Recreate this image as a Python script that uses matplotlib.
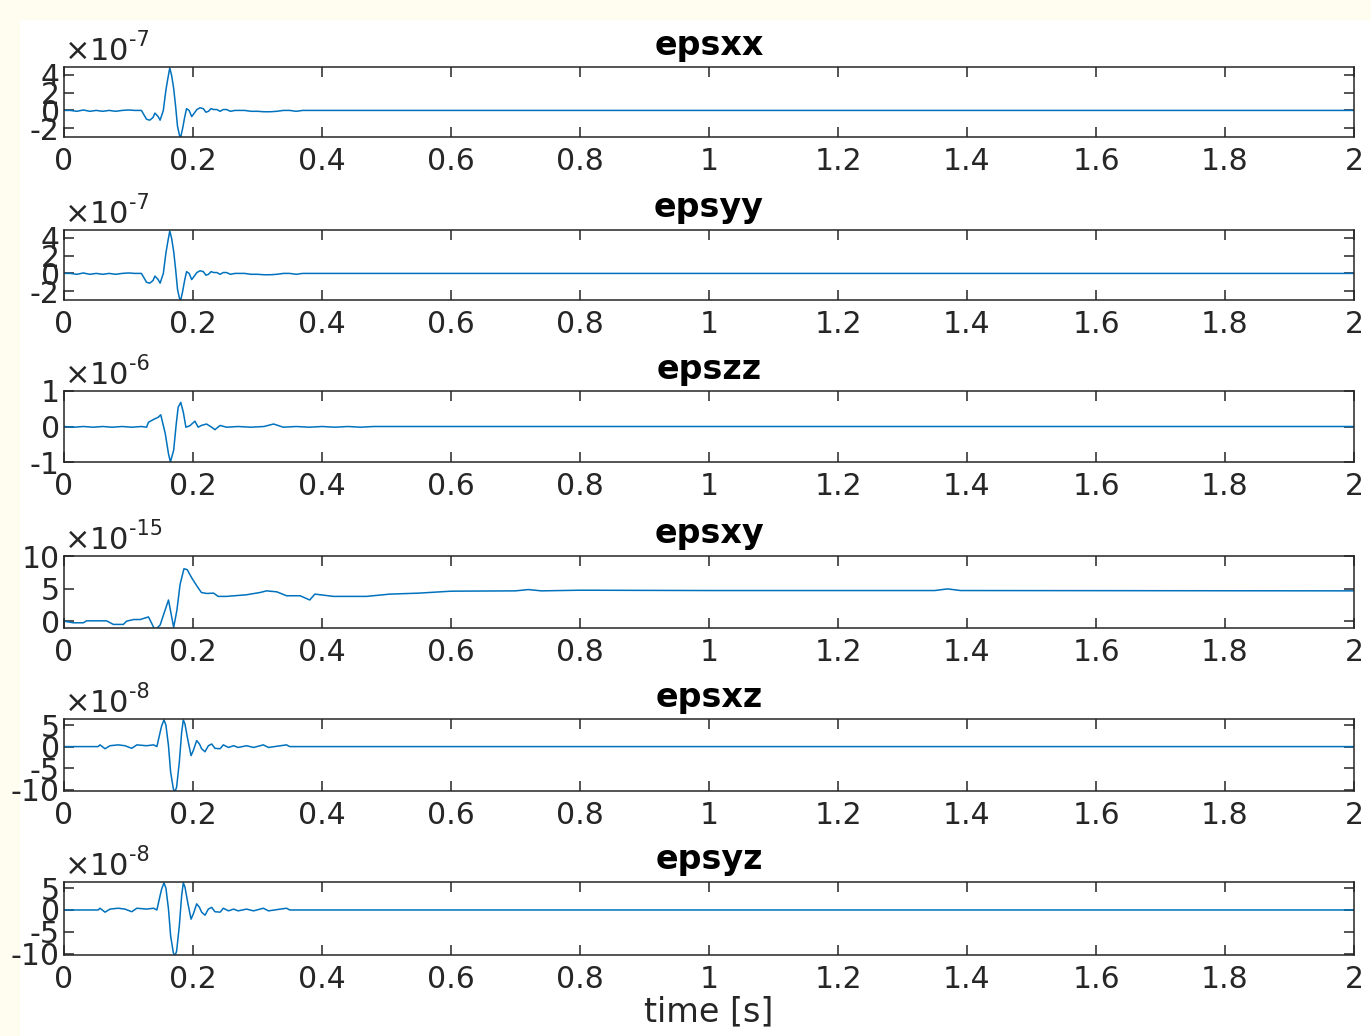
import matplotlib
matplotlib.use('Agg')
import matplotlib.pyplot as plt
from matplotlib.patches import Rectangle

# Strain history, values in units of the per-axis scale
t_xx = [0.0, 0.01, 0.02, 0.03, 0.04, 0.05, 0.06, 0.07, 0.08, 0.09, 0.10, 0.11, 0.12,
        0.128, 0.133, 0.138, 0.141, 0.146, 0.149, 0.154, 0.158, 0.161, 0.164, 0.167,
        0.170, 0.173, 0.176, 0.179, 0.181, 0.184, 0.187, 0.190, 0.194, 0.198, 0.202,
        0.206, 0.211, 0.216, 0.220, 0.224, 0.228, 0.232, 0.237, 0.242, 0.247, 0.252,
        0.258, 0.265, 0.28, 0.29, 0.30, 0.31, 0.32, 0.33, 0.34, 0.35, 0.36, 0.37, 2.0]
epsxx = [0.0, 0.0, -0.1, 0.05, -0.1, 0.0, -0.1, 0.0, -0.1, 0.0, 0.05, 0.0, 0.0,
         -1.0, -1.1, -0.8, -0.3, -0.7, -1.1, 0.0, 2.3, 3.6, 4.8, 3.9,
         2.5, 0.5, -1.8, -2.8, -3.0, -2.0, -0.8, 0.2, 0.0, -0.7, -0.3,
         0.1, 0.3, 0.2, -0.2, -0.1, 0.2, 0.1, 0.1, -0.1, 0.1, 0.1,
         -0.1, 0.0, 0.0, -0.1, -0.1, -0.15, -0.15, -0.1, 0.0, 0.0, -0.1, 0.0, 0.0]
epsyy = [0.0, 0.0, -0.1, 0.05, -0.1, 0.0, -0.1, 0.0, -0.1, 0.0, 0.05, 0.0, 0.0,
         -1.0, -1.1, -0.8, -0.3, -0.7, -1.1, 0.0, 2.3, 3.6, 4.8, 3.9,
         2.5, 0.5, -1.8, -2.8, -3.0, -2.0, -0.8, 0.2, 0.0, -0.7, -0.3,
         0.1, 0.3, 0.2, -0.2, -0.1, 0.2, 0.1, 0.1, -0.1, 0.1, 0.1,
         -0.1, 0.0, 0.0, -0.1, -0.1, -0.15, -0.15, -0.1, 0.0, 0.0, -0.1, 0.0, 0.0]

t_zz = [0.0, 0.015, 0.03, 0.045, 0.06, 0.075, 0.09, 0.105, 0.12, 0.128, 0.131, 0.139,
        0.146, 0.150, 0.157, 0.162, 0.165, 0.170, 0.174, 0.177, 0.181, 0.185, 0.189,
        0.195, 0.203, 0.208, 0.213, 0.221, 0.229, 0.234, 0.242, 0.252, 0.27, 0.29,
        0.31, 0.325, 0.34, 0.36, 0.38, 0.40, 0.42, 0.44, 0.46, 0.48, 2.0]
epszz = [0.0, -0.02, 0.0, -0.02, 0.0, -0.02, 0.0, -0.02, 0.0, -0.02, 0.12, 0.2,
         0.26, 0.33, -0.2, -0.77, -1.0, -0.67, 0.07, 0.54, 0.68, 0.4, -0.02,
         0.02, 0.15, -0.02, 0.03, 0.07, -0.02, -0.09, 0.03, -0.02, 0.0, -0.02,
         0.0, 0.07, -0.02, 0.0, -0.02, 0.0, -0.02, 0.0, -0.02, 0.0, 0.0]

t_xy = [0.0, 0.0145, 0.030, 0.035, 0.066, 0.0765, 0.092, 0.097, 0.108, 0.118, 0.131,
        0.141, 0.149, 0.162, 0.170, 0.175, 0.180, 0.186, 0.191, 0.198, 0.206, 0.213,
        0.221, 0.232, 0.239, 0.252, 0.283, 0.304, 0.314, 0.330, 0.345, 0.366, 0.381,
        0.389, 0.418, 0.469, 0.505, 0.55, 0.60, 0.70, 0.72, 0.74, 0.80, 1.0, 1.35,
        1.37, 1.39, 2.0]
epsxy = [0.0, -0.25, -0.25, 0.05, 0.05, -0.5, -0.5, 0.0, 0.25, 0.25, 0.65,
         -1.35, -0.6, 3.25, -0.95, 1.65, 5.65, 8.05, 7.9, 6.65, 5.4, 4.4,
         4.25, 4.3, 3.8, 3.8, 4.05, 4.4, 4.65, 4.5, 3.9, 3.9, 3.25,
         4.15, 3.8, 3.8, 4.15, 4.3, 4.6, 4.65, 4.85, 4.65, 4.75, 4.7, 4.7,
         4.95, 4.7, 4.65]

t_xz = [0.0, 0.053, 0.0558, 0.0636, 0.0713, 0.084, 0.0946, 0.105, 0.113, 0.128,
        0.139, 0.144, 0.149, 0.1514, 0.155, 0.158, 0.162, 0.1653, 0.1695, 0.172,
        0.1746, 0.1788, 0.1824, 0.185, 0.1876, 0.1917, 0.197, 0.2005, 0.2057, 0.210,
        0.2134, 0.2186, 0.2238, 0.229, 0.234, 0.242, 0.247, 0.255, 0.263, 0.270,
        0.283, 0.294, 0.309, 0.317, 0.345, 0.350, 2.0]
epsxz = [0.0, 0.0, 0.4, -0.5, 0.2, 0.4, 0.2, -0.4, 0.4, 0.2,
         0.4, 0.0, 3.3, 4.8, 6.2, 5.0, 0.2, -5.9, -9.8, -10.5,
         -9.4, -3.6, 3.3, 6.2, 5.2, 1.8, -2.1, -0.9, 1.4, 0.6,
         -0.5, -1.2, 0.2, 0.6, -0.4, -0.5, 0.4, -0.2, 0.2, -0.2,
         0.2, -0.2, 0.4, -0.2, 0.4, 0.0, 0.0]
epsyz = [0.0, 0.0, 0.4, -0.5, 0.2, 0.4, 0.2, -0.4, 0.4, 0.2,
         0.4, 0.0, 3.3, 4.8, 6.2, 5.0, 0.2, -5.9, -9.8, -10.5,
         -9.4, -3.6, 3.3, 6.2, 5.2, 1.8, -2.1, -0.9, 1.4, 0.6,
         -0.5, -1.2, 0.2, 0.6, -0.4, -0.5, 0.4, -0.2, 0.2, -0.2,
         0.2, -0.2, 0.4, -0.2, 0.4, 0.0, 0.0]

titles = ['epsxx', 'epsyy', 'epszz', 'epsxy', 'epsxz', 'epsyz']
times = [t_xx, t_xx, t_zz, t_xy, t_xz, t_xz]
series = [epsxx, epsyy, epszz, epsxy, epsxz, epsyz]
exponents = ['-7', '-7', '-6', '-15', '-8', '-8']
yticks = [[-2, 0, 2, 4], [-2, 0, 2, 4], [-1, 0, 1], [0, 5, 10], [-10, -5, 0, 5], [-10, -5, 0, 5]]
ylims = [(-3.0, 4.9), (-3.0, 4.9), (-1.0, 1.0), (-1.05, 10.0), (-10.3, 6.4), (-10.3, 6.4)]
xticks = [0, 0.2, 0.4, 0.6, 0.8, 1, 1.2, 1.4, 1.6, 1.8, 2]
xticklabels = ['0', '0.2', '0.4', '0.6', '0.8', '1', '1.2', '1.4', '1.6', '1.8', '2']

# pixel boxes of the six axes (top, bottom) in the 1371x1036 frame
W, H = 1371., 1036.
boxes = [(67, 137), (230, 300), (391, 462), (556, 628), (719, 791), (882, 955)]
x_left, x_right = 64, 1354
ink = '#262626'
blue = '#0072BD'
fs = 21.5
fs_big = 24

fig = plt.figure(figsize=(W / 100, H / 100), dpi=100, facecolor='#fffdf0')
fig.patches.append(Rectangle((20 / W, 0), 1 - 20 / W, 1 - 20 / H, transform=fig.transFigure,
                             facecolor='white', edgecolor='none', zorder=-10))

for i in range(6):
    top, bot = boxes[i]
    ax = fig.add_axes([x_left / W, 1 - bot / H, (x_right - x_left) / W, (bot - top) / H])
    ax.plot(times[i], series[i], color=blue, linewidth=1.1)
    ax.set_xlim(0, 2)
    ax.set_ylim(*ylims[i])
    ax.set_xticks(xticks)
    ax.set_xticklabels(xticklabels)
    ax.set_yticks(yticks[i])
    ax.set_yticklabels([str(v) for v in yticks[i]])
    ax.tick_params(direction='in', length=7, width=1.1, colors=ink, labelsize=fs,
                   top=True, right=True, labelcolor=ink)
    ax.tick_params(axis='x', pad=7)
    ax.tick_params(axis='y', pad=3)
    for s in ax.spines.values():
        s.set_color(ink)
        s.set_linewidth(1.1)
    ax.set_title(titles[i], fontsize=fs_big, fontweight='bold', color='black', pad=9)
    # MATLAB style exponent label above the y axis
    ax.text(0.0, 1.02, r'$\times$10', transform=ax.transAxes, fontsize=22, color=ink,
            ha='left', va='bottom')
    ax.text(0.0, 1.02, exponents[i], transform=ax.transAxes, fontsize=15, color=ink,
            ha='left', va='bottom')
    if i == 5:
        ax.set_xlabel('time [s]', fontsize=fs_big, color=ink, labelpad=1)

# shift exponent superscripts next to the "x10" text
fig.canvas.draw()
for ax in fig.axes:
    base, sup = ax.texts[0], ax.texts[1]
    bb = base.get_window_extent()
    x_px = bb.x1 + 1
    y_px = bb.y0 + 0.55 * bb.height
    sup.set_transform(None)
    sup.set_position((x_px, y_px))

fig.savefig('out.png', dpi=100, facecolor=fig.get_facecolor())
